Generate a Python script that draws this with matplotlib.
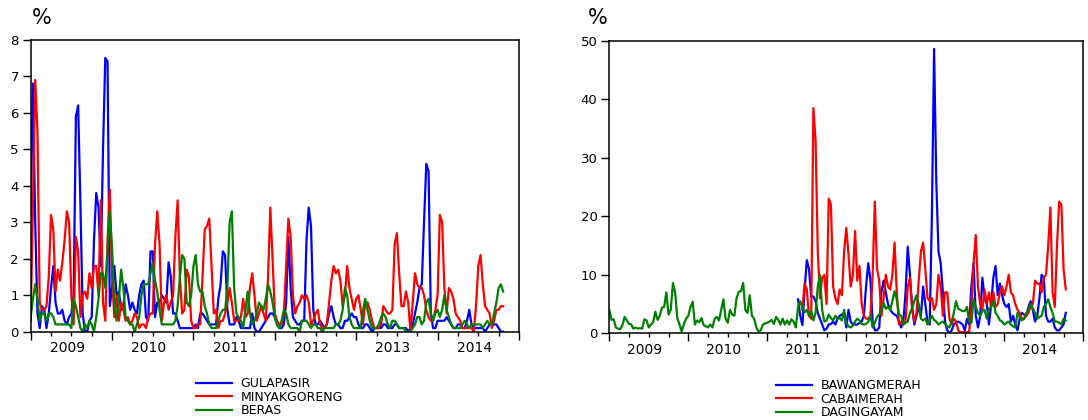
import numpy as np
import matplotlib
matplotlib.use("Agg")
import matplotlib.pyplot as plt
from matplotlib.transforms import ScaledTranslation

# dekad (10-day) observations starting Jan 2009, values in %
START_YEAR = 2009
PER_YEAR = 36

gula_pasir = [
    3.1, 6.8, 3.0, 0.5, 0.1, 0.7, 0.6, 0.1, 0.5, 1.2,
    1.8, 0.8, 0.5, 0.5, 0.6, 0.3, 0.2, 0.4, 0.5, 1.0,
    5.9, 6.2, 3.5, 0.5, 0.0, 0.0, 0.3, 0.4, 2.5, 3.8,
    3.4, 1.8, 5.0, 7.5, 7.4, 0.7, 1.2, 1.8, 1.0, 1.1,
    0.6, 0.7, 1.3, 1.0, 0.6, 0.8, 0.6, 0.5, 1.0, 1.3,
    1.4, 0.4, 0.3, 2.2, 2.2, 0.4, 0.8, 0.8, 1.0, 0.9,
    0.8, 1.9, 1.5, 0.5, 0.5, 0.3, 0.1, 0.1, 0.1, 0.1,
    0.1, 0.1, 0.1, 0.2, 0.1, 0.5, 0.5, 0.4, 0.3, 0.2,
    0.2, 0.2, 0.2, 0.9, 1.3, 2.2, 2.1, 0.6, 0.2, 0.2,
    0.2, 0.4, 0.3, 0.1, 0.1, 0.1, 0.1, 0.1, 0.5, 0.1,
    0.0, 0.0, 0.1, 0.2, 0.3, 0.4, 0.5, 0.5, 0.4, 0.2,
    0.1, 0.1, 0.2, 0.8, 2.6, 1.2, 0.4, 0.3, 0.2, 0.2,
    0.3, 0.3, 2.5, 3.4, 2.9, 0.6, 0.2, 0.2, 0.3, 0.2,
    0.1, 0.2, 0.5, 0.7, 0.4, 0.2, 0.2, 0.1, 0.1, 0.3,
    0.3, 0.4, 0.5, 0.4, 0.4, 0.2, 0.1, 0.1, 0.2, 0.2,
    0.1, 0.0, 0.1, 0.1, 0.1, 0.1, 0.2, 0.2, 0.1, 0.1,
    0.1, 0.2, 0.2, 0.1, 0.1, 0.1, 0.1, 0.0, 0.1, 0.2,
    0.5, 0.8, 1.2, 1.3, 3.0, 4.6, 4.4, 0.5, 0.1, 0.1,
    0.3, 0.3, 0.3, 0.3, 0.4, 0.3, 0.2, 0.1, 0.1, 0.2,
    0.2, 0.1, 0.1, 0.3, 0.6, 0.2, 0.1, 0.1, 0.1, 0.1,
    0.1, 0.0, 0.1, 0.2, 0.2, 0.2, 0.2, 0.1, 0.0, 0.0,
]

minyak_goreng = [
    0.3, 3.5, 6.9, 5.5, 0.8, 0.6, 0.6, 0.7, 1.5, 3.2,
    2.8, 1.1, 1.7, 1.4, 1.9, 2.5, 3.3, 3.0, 1.0, 0.2,
    2.6, 2.2, 0.4, 1.0, 1.1, 0.9, 1.6, 1.2, 1.8, 1.8,
    1.0, 3.6, 0.8, 0.3, 2.5, 3.9, 1.5, 0.4, 1.0, 0.3,
    0.8, 0.6, 0.3, 0.4, 0.2, 0.3, 0.5, 0.4, 0.1, 0.2,
    0.2, 0.1, 0.4, 0.5, 0.5, 2.4, 3.3, 2.4, 0.3, 0.8,
    1.0, 0.6, 0.8, 1.0, 2.6, 3.6, 1.5, 0.5, 0.6, 1.7,
    1.5, 0.3, 0.1, 0.1, 0.2, 0.2, 1.5, 2.8, 2.9, 3.1,
    1.8, 0.5, 0.6, 0.1, 0.3, 0.3, 0.5, 0.8, 1.2, 0.8,
    0.3, 0.3, 0.3, 0.4, 0.9, 0.4, 0.5, 1.2, 1.6, 1.0,
    0.3, 0.5, 0.7, 0.5, 0.3, 1.5, 3.4, 2.0, 0.5, 0.3,
    0.2, 0.2, 0.5, 1.8, 3.1, 2.6, 1.0, 0.5, 0.7, 0.8,
    1.0, 0.9, 1.0, 0.8, 0.2, 0.3, 0.5, 0.6, 0.2, 0.1,
    0.1, 0.2, 0.8, 1.4, 1.8, 1.6, 1.7, 1.4, 0.7, 1.0,
    1.8, 1.2, 0.9, 0.6, 0.9, 1.0, 0.6, 0.2, 0.8, 0.8,
    0.6, 0.3, 0.1, 0.1, 0.1, 0.2, 0.7, 0.6, 0.5, 0.5,
    0.6, 2.4, 2.7, 1.6, 0.7, 0.7, 1.1, 0.8, 0.0, 0.8,
    1.6, 1.3, 1.2, 1.2, 1.0, 0.6, 0.4, 0.3, 0.3, 0.6,
    1.0, 3.2, 3.0, 1.2, 0.5, 1.2, 1.1, 0.9, 0.5, 0.4,
    0.3, 0.1, 0.1, 0.1, 0.1, 0.1, 0.0, 0.7, 1.8, 2.1,
    1.3, 0.7, 0.6, 0.5, 0.1, 0.3, 0.6, 0.6, 0.7, 0.7,
]

beras = [
    0.4, 0.9, 1.3, 0.9, 0.3, 0.5, 0.5, 0.3, 0.5, 0.5,
    0.4, 0.2, 0.2, 0.2, 0.2, 0.2, 0.2, 0.2, 0.1, 0.9,
    0.7, 0.4, 0.1, 0.0, 0.2, 0.1, 0.3, 0.2, 0.0, 0.4,
    0.9, 1.6, 1.6, 1.2, 2.2, 3.3, 2.3, 0.8, 0.3, 0.9,
    1.7, 1.2, 0.4, 0.3, 0.2, 0.2, 0.0, 0.2, 0.4, 1.0,
    1.3, 1.3, 1.3, 1.6, 1.9, 1.4, 1.1, 0.6, 0.2, 0.2,
    0.2, 0.2, 0.2, 0.2, 0.3, 0.7, 1.5, 2.1, 2.0, 0.8,
    0.7, 1.0, 1.8, 2.1, 1.3, 1.1, 1.1, 0.7, 0.5, 0.2,
    0.1, 0.1, 0.1, 0.3, 0.5, 0.6, 0.6, 1.2, 3.0, 3.3,
    1.2, 0.5, 0.4, 0.3, 0.1, 0.6, 1.1, 0.5, 0.2, 0.3,
    0.5, 0.8, 0.7, 0.6, 0.9, 1.3, 1.1, 0.8, 0.4, 0.2,
    0.1, 0.3, 0.6, 0.5, 0.2, 0.1, 0.1, 0.1, 0.1, 0.0,
    0.3, 0.3, 0.3, 0.2, 0.1, 0.2, 0.2, 0.1, 0.1, 0.0,
    0.1, 0.1, 0.1, 0.1, 0.1, 0.2, 0.2, 0.3, 0.6, 1.2,
    1.0, 0.4, 0.2, 0.1, 0.1, 0.1, 0.1, 0.6, 0.9, 0.6,
    0.3, 0.1, 0.1, 0.1, 0.2, 0.4, 0.5, 0.4, 0.2, 0.1,
    0.3, 0.3, 0.2, 0.1, 0.1, 0.1, 0.0, 0.0, 0.0, 0.1,
    0.2, 0.4, 0.4, 0.2, 0.3, 0.8, 0.9, 0.5, 0.3, 0.5,
    0.6, 0.4, 0.6, 1.0, 0.6, 0.4, 0.2, 0.1, 0.1, 0.1,
    0.1, 0.2, 0.3, 0.2, 0.1, 0.2, 0.2, 0.2, 0.2, 0.2,
    0.1, 0.2, 0.3, 0.2, 0.2, 0.5, 0.8, 1.2, 1.3, 1.1,
]

daging_ayam = [
    4.0, 2.3, 2.4, 1.0, 0.8, 0.7, 1.4, 2.8, 2.2, 1.6,
    1.5, 0.8, 1.0, 0.8, 0.9, 0.8, 2.4, 2.2, 1.0, 1.5,
    1.9, 3.7, 2.3, 3.0, 4.4, 4.5, 7.0, 3.2, 4.0, 8.6,
    7.0, 2.6, 1.5, 0.3, 1.6, 2.5, 3.0, 4.5, 5.4, 1.5,
    2.2, 1.9, 2.6, 1.4, 1.2, 1.0, 1.5, 1.0, 2.5, 2.8,
    2.2, 4.0, 5.8, 2.5, 1.8, 4.0, 3.2, 3.0, 6.0, 7.1,
    7.2, 8.6, 4.0, 3.5, 6.5, 3.0, 2.5, 1.0, 0.3, 0.5,
    1.5, 1.7, 1.8, 2.0, 2.3, 1.6, 2.8, 2.3, 1.5, 2.5,
    1.5, 2.2, 1.5, 2.4, 2.0, 1.0, 4.5, 5.5, 4.3, 3.6,
    4.0, 3.0, 3.8, 2.2, 3.5, 8.0, 10.0, 4.0, 2.0, 2.2,
    3.2, 2.6, 2.2, 3.0, 2.5, 2.6, 2.2, 4.0, 1.8, 1.2,
    1.0, 1.3, 2.0, 2.5, 2.2, 1.6, 1.5, 1.6, 2.0, 3.0,
    1.0, 1.8, 2.8, 3.2, 4.0, 5.2, 4.2, 4.5, 4.0, 5.5,
    7.2, 5.8, 3.2, 3.0, 1.5, 1.8, 2.0, 3.5, 4.3, 5.5,
    6.5, 5.0, 2.5, 2.2, 2.5, 1.5, 2.2, 3.0, 2.3, 2.0,
    1.5, 1.8, 2.0, 1.6, 1.2, 1.0, 2.0, 3.5, 5.5, 4.2,
    4.0, 3.8, 3.8, 4.5, 2.0, 1.8, 5.8, 4.5, 3.5, 3.0,
    3.8, 4.0, 2.5, 4.2, 4.5, 5.5, 3.5, 3.0, 2.2, 2.0,
    1.5, 1.8, 2.0, 1.5, 1.2, 1.0, 3.5, 2.8, 2.2, 2.5,
    3.5, 4.0, 5.0, 4.2, 3.5, 2.5, 2.8, 3.0, 4.5, 5.0,
    5.8, 4.5, 3.5, 2.0, 2.0, 1.8, 1.5, 2.5, 2.2,
]

# these two series begin later (dekad number counted from Jan 2009)
bawang_merah_start = 86
bawang_merah = [
    5.8, 3.0, 1.4, 7.5,
    12.5, 11.0, 6.3, 6.3, 5.5, 3.5, 2.5, 1.5, 0.5, 0.8,
    1.5, 1.6, 2.0, 1.5, 2.5, 3.0, 3.2, 3.5, 1.0, 4.0,
    2.0, 1.5, 1.5, 1.5, 1.8, 2.0, 3.0, 8.0, 12.0, 9.0,
    2.0, 0.5, 0.5, 1.0, 7.0, 9.0, 7.0, 5.0, 4.0, 3.5,
    3.2, 3.0, 2.0, 1.0, 2.0, 7.0, 14.8, 10.0, 4.5, 1.5,
    3.0, 4.5, 3.0, 8.0, 5.0, 2.0, 1.5, 20.0, 48.6, 26.0,
    14.0, 12.0, 7.0, 2.0, 0.5, 0.0, 0.5, 1.5, 1.8, 2.0,
    1.8, 1.5, 0.5, 2.5, 1.5, 8.0, 12.0, 3.0, 1.0, 3.0,
    9.5, 6.0, 5.0, 1.5, 5.0, 9.5, 11.5, 6.5, 8.5, 6.5,
    5.0, 4.5, 5.0, 2.0, 3.0, 1.5, 0.5, 2.5, 3.5, 3.2,
    3.0, 4.5, 5.5, 4.0, 2.0, 3.0, 6.0, 10.0, 9.5, 3.0,
    2.0, 2.0, 2.5, 1.0, 0.5, 0.5, 1.0, 1.5, 3.5,
]

cabai_merah_start = 88
cabai_merah = [
    4.0, 8.5,
    7.5, 3.0, 2.5, 38.5, 33.0, 14.0, 6.0, 9.5, 10.0, 5.0,
    23.0, 22.0, 8.0, 6.0, 5.0, 7.5, 6.5, 14.0, 18.0, 13.5,
    8.0, 10.0, 17.5, 9.0, 11.5, 5.0, 3.0, 2.5, 2.5, 3.0,
    10.0, 22.5, 11.0, 9.0, 3.0, 6.0, 10.0, 8.0, 7.5, 10.0,
    15.5, 7.0, 1.5, 2.0, 1.5, 2.0, 8.0, 9.5, 4.0, 2.0,
    3.5, 9.0, 14.0, 15.5, 11.0, 6.0, 5.5, 6.0, 4.0, 5.0,
    10.0, 8.0, 3.0, 7.0, 7.0, 2.5, 1.5, 2.5, 2.0, 0.5,
    0.2, 0.2, 0.2, 0.2, 0.3, 4.5, 12.0, 16.8, 8.0, 5.0,
    4.0, 7.5, 5.0, 7.0, 4.5, 7.0, 4.5, 5.0, 7.0, 8.0,
    6.5, 8.0, 10.0, 7.0, 6.5, 5.0, 4.0, 3.5, 2.5, 2.5,
    3.0, 3.5, 4.5, 5.0, 9.0, 8.5, 8.5, 7.0, 9.5, 10.0,
    15.0, 21.5, 7.0, 4.5, 15.0, 22.5, 22.0, 11.0, 7.5,
]

years = [2009, 2010, 2011, 2012, 2013, 2014]
x_end = 2014.81

BLUE = "#0000ff"
RED = "#ff0000"
GREEN = "#008000"


def dekad_time(values, start=0):
    return START_YEAR + (start + np.arange(len(values))) / PER_YEAR


def style_axis(ax, ymax, ystep):
    ax.set_xlim(START_YEAR, x_end)
    ax.set_ylim(0, ymax)
    ax.set_yticks(np.arange(0, ymax + ystep / 2, ystep))
    # quarter ticks, label in the middle of each year
    qt = [y + q for y in years for q in (0.25, 0.5, 0.75)]
    ql = [str(y) if q == 0.5 else "" for y in years for q in (0.25, 0.5, 0.75)]
    ax.set_xticks(qt, ql)
    ax.set_xticks(years + [2015], minor=True)
    ax.tick_params(axis="x", which="major", direction="out", length=3,
                   width=1.0, labelsize=10, pad=4)
    ax.tick_params(axis="x", which="minor", direction="out", length=6, width=1.0)
    ax.tick_params(axis="y", direction="out", length=5.5, width=1.0,
                   labelsize=9.5, pad=3)
    # year labels sit a little left of mid-year
    shift = ScaledTranslation(-4 / 100, 0, fig.dpi_scale_trans)
    for lbl in ax.get_xticklabels():
        lbl.set_transform(lbl.get_transform() + shift)
    for s in ax.spines.values():
        s.set_linewidth(1.1)


fig = plt.figure(figsize=(10.88, 4.2), dpi=100)

ax1 = fig.add_axes([0.0282, 0.2102, 0.4488, 0.6952])
ax1.plot(dekad_time(gula_pasir), gula_pasir, color=BLUE, lw=1.6, label="GULAPASIR")
ax1.plot(dekad_time(minyak_goreng), minyak_goreng, color=RED, lw=1.6, label="MINYAKGORENG")
ax1.plot(dekad_time(beras), beras, color=GREEN, lw=1.6, label="BERAS")
style_axis(ax1, 8, 1)

ax2 = fig.add_axes([0.5600, 0.2064, 0.4357, 0.6967])
ax2.plot(dekad_time(bawang_merah, bawang_merah_start), bawang_merah,
         color=BLUE, lw=1.6, label="BAWANGMERAH")
ax2.plot(dekad_time(cabai_merah, cabai_merah_start), cabai_merah,
         color=RED, lw=1.6, label="CABAIMERAH")
ax2.plot(dekad_time(daging_ayam), daging_ayam, color=GREEN, lw=1.6, label="DAGINGAYAM")
style_axis(ax2, 50, 10)

fig.text(41.7 / 1088, 1 - 18 / 420, "%", ha="center", va="center", fontsize=15)
fig.text(598 / 1088, 1 - 17.7 / 420, "%", ha="center", va="center", fontsize=15)

leg_kw = dict(frameon=False, fontsize=9, handlelength=2.9, handletextpad=0.65,
              labelspacing=0.05, borderpad=0, borderaxespad=0, loc="upper left")
h1, l1 = ax1.get_legend_handles_labels()
fig.legend(h1, l1, bbox_to_anchor=(196 / 1088, 1 - 377 / 420), **leg_kw)
h2, l2 = ax2.get_legend_handles_labels()
fig.legend(h2, l2, bbox_to_anchor=(776 / 1088, 1 - 379 / 420), **leg_kw)

fig.savefig("out.png", dpi=100)
